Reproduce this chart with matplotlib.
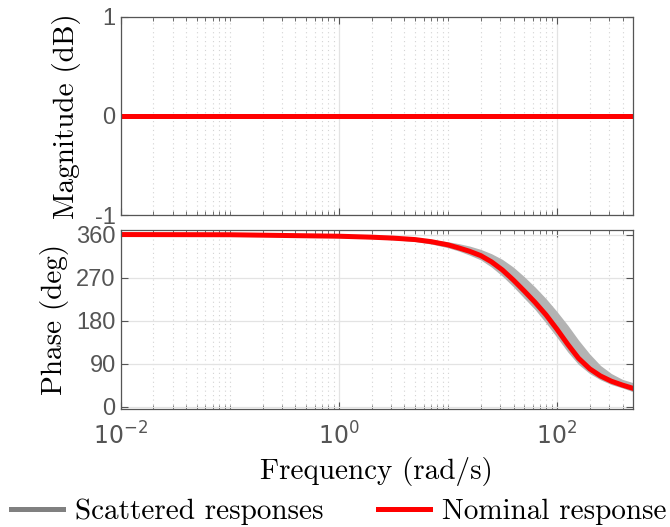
import numpy as np
import matplotlib
matplotlib.use("Agg")
import matplotlib.pyplot as plt
from matplotlib.lines import Line2D
from matplotlib.ticker import FixedLocator, LogFormatterSciNotation, NullFormatter

plt.rcParams['mathtext.fontset'] = 'custom'
plt.rcParams['mathtext.rm'] = 'Liberation Sans'
plt.rcParams['axes.unicode_minus'] = False

# values (rad/s, deg)
freq = [0.01, 0.1, 1, 2, 3.16, 5, 7.08, 10, 12.6, 15.8, 20, 25.1, 31.6, 39.8,
        50.1, 63.1, 79.4, 100, 126, 158, 200, 251, 316, 398, 500]
phase_nom = [360, 359.6, 356.5, 354.5, 352.5, 349.5, 345, 338.5, 332, 325,
             316, 303, 286, 265, 242, 218, 192, 162, 130, 101, 79, 64, 53,
             45, 38]
phase_hi = [360, 359.8, 358, 356.3, 354.8, 352.2, 349.5, 345, 341, 336, 329,
            320, 308, 292, 272, 250, 226, 199, 170, 139, 110, 86, 69, 57, 50]
phase_lo = [360, 359.3, 353.5, 351.3, 349, 345.5, 340, 332.5, 325.5, 317,
            307, 292, 273, 251, 227, 203, 175, 145, 114, 88, 69, 56, 46, 39,
            31]
mag_nom = [0] * len(freq)

mag_ticks = [-1, 0, 1]
phase_ticks = [0, 90, 180, 270, 360]

tick_col = '#555555'
grid_col = '#e3e3e3'
band_col = '#b3b3b3'
cm = 'cmr10'

fig = plt.figure(figsize=(6.7, 5.27), dpi=100)
ax1 = fig.add_axes([0.180, 0.592, 0.765, 0.376])
ax2 = fig.add_axes([0.180, 0.224, 0.765, 0.340])

minors = [n * 10.0**k for k in range(-3, 3) for n in range(1, 10)]
minors = [m for m in minors if m not in (0.01, 1, 100)]

for ax in (ax1, ax2):
    ax.set_xscale('log')
    ax.set_xlim(0.01, 500)
    ax.xaxis.set_major_locator(FixedLocator([0.01, 1, 100]))
    ax.xaxis.set_minor_locator(FixedLocator(minors))
    ax.xaxis.set_minor_formatter(NullFormatter())
    ax.grid(True, which='major', color=grid_col, lw=0.9, ls='-')
    ax.grid(True, which='minor', axis='x', color='#d3d3d3', lw=0.8, ls=(0, (1, 3)))
    ax.tick_params(which='both', direction='in', top=True, right=True,
                   colors=tick_col, labelsize=17)
    ax.tick_params(which='major', length=5, width=0.8)
    ax.tick_params(which='minor', length=3, width=0.6)
    for s in ax.spines.values():
        s.set_color(tick_col)
        s.set_linewidth(0.9)
    ax.set_axisbelow(True)

# magnitude
ax1.plot(freq, mag_nom, color=band_col, lw=3.6)
ax1.plot(freq, mag_nom, color='red', lw=3.6)
ax1.set_ylim(-1, 1)
ax1.set_yticks(mag_ticks)
ax1.set_yticklabels([str(t) for t in mag_ticks], family='Liberation Sans')
ax1.xaxis.set_major_formatter(NullFormatter())
ax1.set_ylabel('Magnitude (dB)', family=cm, fontsize=21, labelpad=10)

# phase
ax2.fill_between(freq, phase_lo, phase_hi, color=band_col, lw=0)
ax2.plot(freq, phase_nom, color='red', lw=3.6)
ax2.set_ylim(-5, 370)
ax2.set_yticks(phase_ticks)
ax2.set_yticklabels([str(t) for t in phase_ticks], family='Liberation Sans')
ax2.xaxis.set_major_formatter(LogFormatterSciNotation())
ax2.tick_params(axis='x', pad=10)
ax2.set_ylabel('Phase (deg)', family=cm, fontsize=21, labelpad=5)
ax2.set_xlabel('Frequency (rad/s)', family=cm, fontsize=21, labelpad=5)

handles = [Line2D([], [], color='#808080', lw=3.6),
           Line2D([], [], color='red', lw=3.6)]
fig.legend(handles, ['Scattered responses', 'Nominal response'],
           loc='center left', bbox_to_anchor=(0.016, 0.028), ncol=2,
           frameon=False, prop={'family': cm, 'size': 21},
           handlelength=1.8, handletextpad=0.41, columnspacing=1.85,
           borderpad=0, borderaxespad=0)

fig.savefig('out.png', dpi=100)
